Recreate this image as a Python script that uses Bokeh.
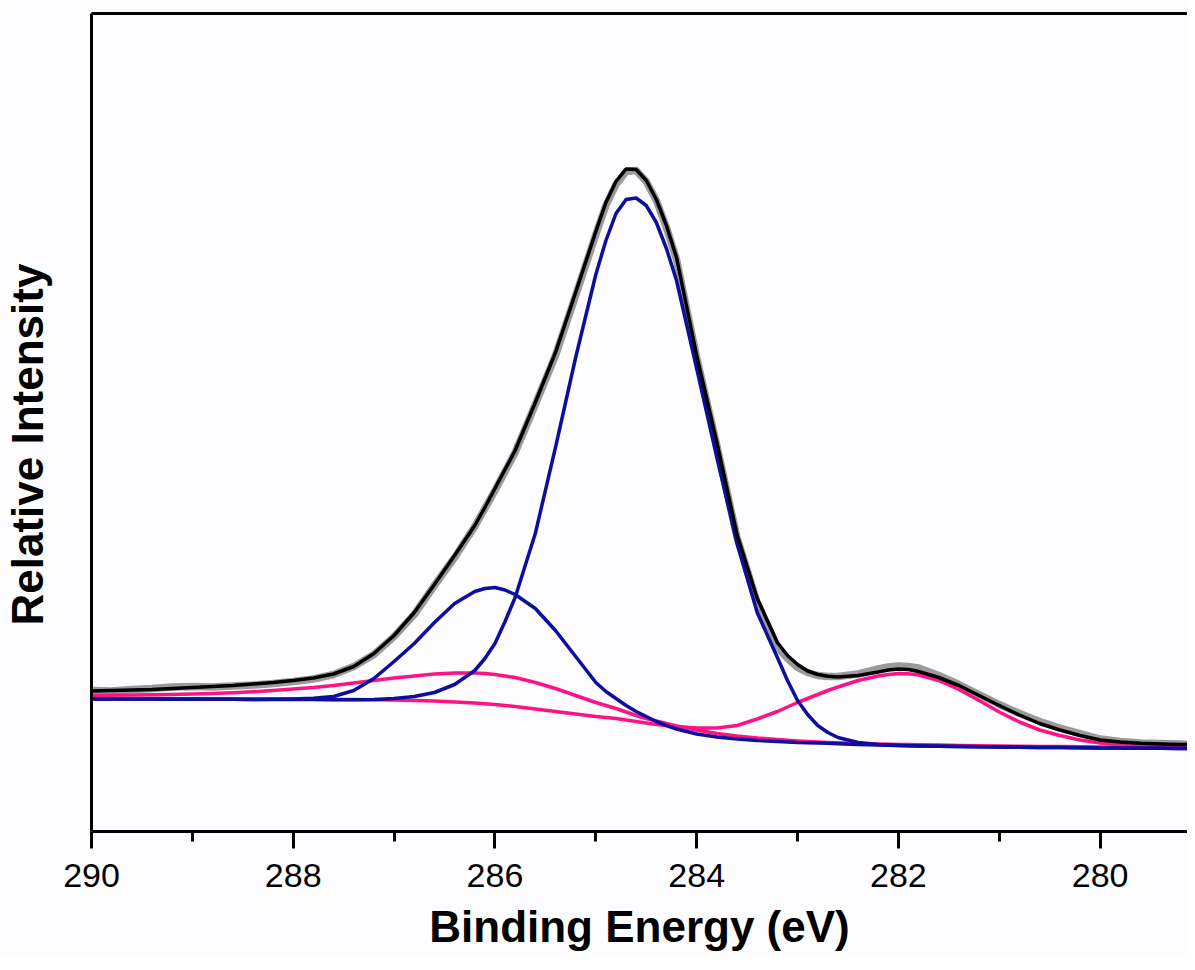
from bokeh.plotting import figure
from bokeh.models import Range1d, LinearAxis, FixedTicker, Title
from bokeh.embed import file_html
from bokeh.resources import INLINE

# Binding energy grid (eV)
energy = [290.0, 289.8, 289.6, 289.4, 289.2, 289.0, 288.8, 288.6, 288.4, 288.2,
          288.0, 287.8, 287.6, 287.4, 287.2, 287.0, 286.8, 286.6, 286.4, 286.2,
          286.1, 286.0, 285.9, 285.8, 285.6, 285.4, 285.2, 285.0, 284.9, 284.8, 284.7, 284.6,
          284.5, 284.4, 284.3, 284.2, 284.0, 283.8, 283.6, 283.4, 283.2, 283.1, 283.0,
          282.9, 282.8, 282.7, 282.6, 282.4, 282.2, 282.1, 282.0, 281.9, 281.8, 281.6, 281.4, 281.2, 281.0,
          280.8, 280.6, 280.4, 280.2, 280.0, 279.8, 279.6, 279.4, 279.2, 279.0]

# Measured spectrum (grey)
raw = [141, 140.5, 142, 143, 144.5, 145, 144.5, 145.5, 146.5, 148,
       150, 152.5, 157, 165, 177, 195, 217, 246, 274, 305,
       323, 341, 360, 379, 427, 476, 536, 597, 626, 647, 660, 661,
       650, 631, 604, 572, 474, 386, 294, 229, 184, 173, 164,
       159, 156, 155, 155, 157.5, 162.5, 164.5, 165.5, 165, 163.5, 156, 147, 137, 127,
       118, 110, 103.5, 98, 92.5, 90, 88.5, 88, 87.5, 87]

# Fitted envelope (black)
envelope = [140.5, 141, 141.5, 142, 143, 144, 145, 146, 147.5, 149,
            151, 153.5, 157.5, 165, 178, 196, 219, 247, 276, 306,
            324, 343, 362, 381, 429, 479, 539, 600, 629, 650, 662.5, 662,
            651, 632, 606, 574, 476, 389, 297, 233, 189, 176, 167,
            160.5, 157, 155.2, 154.5, 156, 159.5, 161.5, 162.5, 162, 160, 154, 146, 136, 126,
            116.5, 108, 101.5, 96, 91.5, 89.5, 88.2, 87.5, 87, 87]

# Component at ~284.6 eV (blue)
comp_2846 = [132.5, 132.5, 132.4, 132.4, 132.3, 132.3, 132.2, 132.2, 132.1, 132,
             132, 131.9, 131.8, 131.8, 132, 133, 135, 139, 147, 161,
             173, 188, 210, 234, 298, 384, 474, 557, 591, 618, 632, 633.5,
             626, 609, 583, 551, 463, 374, 288, 219, 174, 151, 131,
             117, 106, 99, 94, 89, 87, 86.5, 86, 85.7, 85.5, 85.2, 85, 84.7, 84.5,
             84.3, 84.1, 83.9, 83.7, 83.5, 83.4, 83.3, 83.2, 83.1, 83]

# Component at ~286.0 eV (blue)
comp_2860 = [132.5, 132.5, 132.4, 132.4, 132.3, 132.3, 132.2, 132.2, 132.1, 132.2,
             132.5, 133.2, 135, 141, 153, 170, 188, 209, 228, 240,
             243, 244, 241.5, 237, 223, 201, 175, 149, 140, 133, 126, 120,
             115, 110, 106, 102.5, 97.5, 94.5, 92.5, 91, 90, 89.5, 89,
             88.8, 88.5, 88.2, 87.8, 87, 86.5, 86.3, 86, 85.8, 85.5, 85.2, 85, 84.7, 84.5,
             84.3, 84.1, 83.9, 83.7, 83.5, 83.4, 83.3, 83.2, 83.1, 83]

# Broad component at ~286.3 eV (pink)
comp_2863 = [136, 136.2, 136.4, 136.7, 137, 137.5, 138, 138.7, 139.7, 141,
             142.5, 144, 146, 148.5, 151, 153.5, 155.5, 157.5, 158.5, 158.5,
             158, 157, 155.5, 154, 149, 143, 136, 129, 126, 123, 119.5, 116,
             113, 110.5, 108, 105.5, 101.5, 98, 95.5, 93.5, 92, 91.2, 90.5,
             90, 89.5, 89, 88.7, 88, 87.5, 87.3, 87, 86.9, 86.7, 86.4, 86.1, 85.8, 85.5,
             85.3, 85.1, 84.9, 84.7, 84.5, 84.4, 84.3, 84.2, 84.1, 84]

# Component at ~282.0 eV (pink)
comp_2820 = [133, 133, 132.9, 132.9, 132.8, 132.7, 132.6, 132.5, 132.4, 132.4,
             132.3, 132.2, 132.1, 132, 131.8, 131.5, 131, 130.5, 129.5, 128.5,
             127.8, 127, 126, 125, 122.5, 120, 117.5, 115, 114, 113, 111.5, 110,
             108.5, 107, 106, 105, 103.5, 103.5, 106, 112.5, 120, 124.5, 129,
             133, 137, 141, 144.5, 151, 155.5, 157, 158, 157.7, 156.5, 151, 142, 131, 119.5,
             109.5, 101.5, 96, 91.5, 88.5, 87, 86, 85.5, 85, 85]

major_ticks = [290, 288, 286, 284, 282, 280]
minor_ticks = [289, 287, 285, 283, 281, 279]
x_title = "Binding Energy (eV)"
y_title = "Relative Intensity"

BG = "#fdfcfe"
BLUE = "#0d0d9e"
PINK = "#ff1283"
FONT = "Liberation Sans"

p = figure(width=1187, height=954, output_backend="svg", toolbar_location=None,
           x_range=Range1d(290, 279.134), y_range=Range1d(0, 818),
           min_border_left=91, min_border_right=0, min_border_top=13,
           min_border_bottom=123)
p.xgrid.visible = False
p.ygrid.visible = False
p.outline_line_color = None
p.background_fill_color = BG
p.border_fill_color = BG

xa = p.xaxis[0]
xa.ticker = FixedTicker(ticks=major_ticks, minor_ticks=minor_ticks)
xa.axis_line_width = 3
xa.axis_line_color = "black"
xa.major_tick_line_width = 3
xa.minor_tick_line_width = 3
xa.major_tick_out = 17
xa.major_tick_in = 0
xa.minor_tick_out = 10
xa.minor_tick_in = 0
xa.major_label_text_font = FONT
xa.major_label_text_font_size = "34px"
xa.major_label_text_color = "black"
xa.major_label_standoff = 15
xa.axis_label = x_title
xa.axis_label_text_font = FONT
xa.axis_label_text_font_size = "44px"
xa.axis_label_text_font_style = "bold"
xa.axis_label_text_color = "black"
xa.axis_label_standoff = 12

ya = p.yaxis[0]
ya.ticker = FixedTicker(ticks=[])
ya.axis_line_width = 3
ya.axis_line_color = "black"
ya.major_tick_out = 0
ya.minor_tick_out = 0
ya.major_tick_in = 0
ya.minor_tick_in = 0
# invisible spacer label that pushes the title away from the axis line
ya.axis_label = " "
ya.axis_label_text_font_size = "1px"
ya.axis_label_standoff = 36

top = LinearAxis(ticker=FixedTicker(ticks=[]), axis_line_width=3, axis_line_color="black",
                 major_tick_out=0, major_tick_in=0, minor_tick_out=0, minor_tick_in=0,
                 major_label_text_font_size="0px")
p.add_layout(top, "above")

ytitle = Title(text=y_title, align="left", offset=206, standoff=0,
               text_font=FONT, text_font_size="44px", text_font_style="bold",
               text_color="black")
p.add_layout(ytitle, "left")

p.line(energy, raw, line_color="#9a9a9a", line_width=7.5, line_join="round")
p.line(energy, comp_2863, line_color=PINK, line_width=3.5, line_join="round")
p.line(energy, comp_2820, line_color=PINK, line_width=3.5, line_join="round")
p.line(energy, comp_2846, line_color=BLUE, line_width=3.5, line_join="round")
p.line(energy, comp_2860, line_color=BLUE, line_width=3.5, line_join="round")
p.line(energy, envelope, line_color="black", line_width=3.5, line_join="round")

open("out.html", "w").write(file_html(p, INLINE))
